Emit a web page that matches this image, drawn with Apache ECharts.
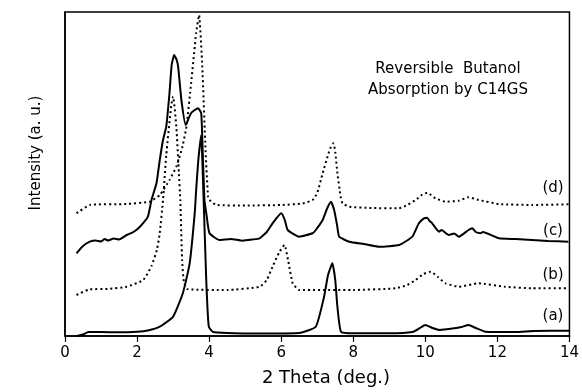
<!DOCTYPE html>
<html><head><meta charset="utf-8">
<script src="https://cdn.jsdelivr.net/npm/echarts@6/dist/echarts.min.js"></script>
<style>html,body{margin:0;padding:0;background:#fff}#c{width:582px;height:392px}</style>
</head><body><div id="c"></div>
<script>
// x-axis tick labels
var xTicks = [0, 2, 4, 6, 8, 10, 12, 14];
var seriesNames = ['(a)', '(b)', '(c)', '(d)'];

// Each curve: [2θ (deg), intensity (a.u., vertically offset)]
var curveA = [[0.32,0],[0.5,1.5],[0.65,4],[1.0,4],[1.5,3.7],[2.0,4.3],[2.3,5.5],[2.63,9.3],[3.0,19.3],[3.27,42.7],[3.46,72.7],[3.6,122.7],[3.64,146],[3.7,176],[3.78,201],[3.83,156],[3.92,56],[3.99,9.3],[4.1,4.3],[4.5,3],[5.5,2.5],[6.5,3],[6.96,9.3],[7.19,39.3],[7.3,61],[7.42,72.7],[7.5,56],[7.56,29.3],[7.66,4.3],[8,2.7],[9,2.7],[9.64,4],[9.85,8],[10.0,11],[10.2,8],[10.4,6],[10.8,7.7],[11.0,9],[11.2,11],[11.4,8],[11.67,4.3],[12.5,4],[13,5],[14,5.3]];
var curveB = [[0.32,41],[0.69,46.7],[1.2,47],[1.71,49.3],[2.17,56],[2.4,70],[2.55,86],[2.63,103],[2.72,136],[2.81,181],[2.95,231],[3.0,239.5],[3.09,209.3],[3.16,163],[3.2,136],[3.25,76],[3.3,54],[3.4,47],[4.5,46],[5.4,49.3],[5.6,56],[5.76,69.3],[5.95,84],[6.09,91],[6.2,74],[6.32,52.7],[6.5,46],[8,46],[9.18,47.7],[9.5,51],[9.73,56],[9.95,62],[10.15,64.3],[10.35,59],[10.56,52.7],[10.93,49.3],[11.48,52.7],[12.2,49.3],[12.96,47.7],[14,47.7]];
var curveC = [[0.32,82.7],[0.5,90],[0.69,94.3],[0.85,95.5],[1.0,94.5],[1.1,97],[1.2,95.5],[1.35,97.5],[1.5,96.5],[1.71,101],[1.9,104],[2.08,109.3],[2.3,119.3],[2.4,136],[2.54,153],[2.63,176],[2.72,196],[2.81,209.3],[2.9,243],[2.96,271],[3.03,281],[3.1,276],[3.14,269.3],[3.23,236],[3.35,211],[3.5,223],[3.69,227.7],[3.78,223],[3.82,186],[3.87,136],[3.92,123],[4.01,102.7],[4.29,96],[4.6,97],[4.93,95.3],[5.2,96.5],[5.4,97.7],[5.6,104],[5.76,112.7],[6.0,122.7],[6.1,116],[6.18,106],[6.5,99.3],[6.87,102.7],[6.96,106],[7.15,116],[7.28,128],[7.38,134.3],[7.47,126],[7.55,111],[7.61,99.3],[7.89,94.3],[8.3,92],[8.72,89.3],[9.27,91],[9.64,99.3],[9.82,112.7],[9.96,117.7],[10.05,118.3],[10.12,115],[10.19,112.7],[10.38,104.3],[10.45,106],[10.65,101],[10.8,102.5],[10.93,99.3],[11.2,106],[11.3,107.7],[11.4,104],[11.53,102.7],[11.6,104],[12.04,97.7],[12.5,97],[12.96,96],[13.4,95],[13.97,94.3]];
var curveD = [[0.32,122.7],[0.69,131],[1.71,132],[2.35,134.3],[2.63,141],[2.9,156],[3.09,169.3],[3.25,188],[3.37,209.3],[3.5,252.7],[3.64,303],[3.72,321],[3.81,269.3],[3.9,186],[3.97,139.3],[4.01,136],[4.2,131],[5,130.5],[6,131],[6.6,132.5],[6.87,136],[7.0,143],[7.15,162.7],[7.3,181],[7.38,189.3],[7.45,192.7],[7.5,184],[7.56,162.7],[7.65,139.3],[7.7,132.7],[7.89,129.3],[8.5,128],[9.27,127.7],[9.5,131],[9.73,136],[9.9,141],[10.05,143.3],[10.28,137.7],[10.56,134.3],[10.93,135.3],[11.2,138.7],[11.48,136],[12.04,132],[12.96,131],[14,131.7]];

var FONT = 'DejaVu Sans';
var chart = echarts.init(document.getElementById('c'));
function solid(name, data) {
  return {name: name, type: 'line', data: data, showSymbol: false, symbol: 'none', smooth: 0.15,
    lineStyle: {color: '#000', width: 2}, z: 3};
}
function dotted(name, data) {
  return {name: name, type: 'line', data: data, showSymbol: false, symbol: 'none', smooth: 0.15,
    lineStyle: {color: '#000', width: 2, type: [2, 3]}, z: 3};
}
function label(text, x, y, size) {
  return {type: 'text', x: x, y: y, style: {text: text, font: size + 'px "DejaVu Sans"', fill: '#000', align: 'center', verticalAlign: 'middle'}};
}
chart.setOption({
  animation: false,
  backgroundColor: '#fff',
  grid: {left: 65, right: 11, top: 12, bottom: 56, show: true, borderColor: '#000', borderWidth: 1.5, backgroundColor: 'transparent'},
  xAxis: {
    type: 'value', min: 0, max: 14, interval: 2,
    axisLine: {show: true, lineStyle: {color: '#000', width: 1.5}},
    axisTick: {show: true, inside: false, length: 6, lineStyle: {color: '#000', width: 1.2}},
    axisLabel: {color: '#000', fontFamily: FONT, fontSize: 15, margin: 10,
      formatter: function (v) { return xTicks.indexOf(v) >= 0 ? String(v) : ''; }},
    splitLine: {show: false}
  },
  yAxis: {
    type: 'value', min: 0, max: 324,
    axisLine: {show: true, lineStyle: {color: '#000', width: 1.5}},
    axisTick: {show: false}, axisLabel: {show: false}, splitLine: {show: false}
  },
  series: [solid(seriesNames[0], curveA), dotted(seriesNames[1], curveB), solid(seriesNames[2], curveC), dotted(seriesNames[3], curveD)],
  graphic: [
    label('Reversible  Butanol', 448, 69, 15),
    label('Absorption by C14GS', 448, 90, 15),
    label(seriesNames[3], 553, 188, 15),
    label(seriesNames[2], 553, 231, 15),
    label(seriesNames[1], 553, 275, 15),
    label(seriesNames[0], 553, 316, 15),
    label('2 Theta (deg.)', 326, 378, 18),
    {type: 'text', x: 36, y: 153, rotation: Math.PI / 2, style: {text: 'Intensity (a. u.)', font: '15px "DejaVu Sans"', fill: '#000', align: 'center', verticalAlign: 'middle'}}
  ]
});
</script>
</body></html>
